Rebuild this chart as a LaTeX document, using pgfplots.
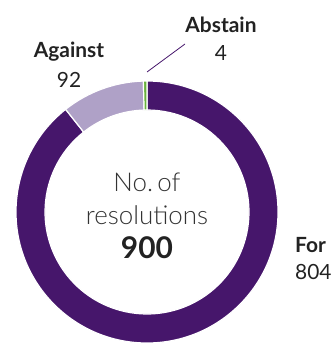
\documentclass[border=0pt]{standalone}
\usepackage{pgfplots}
\usepackage{pgfplotstable}
\pgfplotsset{compat=1.18}
\usepackage{fontspec}
\setmainfont{Lato}
\IfFontExistsTF{Lato Light}{\newfontfamily\lightfont{Lato Light}}{\newfontfamily\lightfont{Lato}}
\definecolor{cFor}{HTML}{46166B}
\definecolor{cAgainst}{HTML}{AFA1C7}
\definecolor{cAbstain}{HTML}{6AB23E}
\definecolor{ctext}{HTML}{222222}
\definecolor{clight}{HTML}{333333}
\pgfplotstableread{
label value
For 804
Against 92
Abstain 4
}\votes
\newcommand\sector[3]{%
  \filldraw[fill=#3, draw=white, line width=1.2bp]
    (axis cs:{147+131*cos(#1)},{131+131*sin(#1)})
    arc[start angle=#1, end angle=#2, radius=131bp]
    -- (axis cs:{147+102*cos(#2)},{131+102*sin(#2)})
    arc[start angle=#2, end angle=#1, radius=102bp] -- cycle;}
\begin{document}%
\begin{tikzpicture}
\pgfplotstablegetelem{0}{value}\of\votes \let\vFor\pgfplotsretval
\pgfplotstablegetelem{1}{value}\of\votes \let\vAgainst\pgfplotsretval
\pgfplotstablegetelem{2}{value}\of\votes \let\vAbstain\pgfplotsretval
\pgfmathsetmacro\vTotal{\vFor+\vAgainst+\vAbstain}
\pgfmathsetmacro\aA{90}
\pgfmathsetmacro\aB{\aA-\vFor/\vTotal*360}
\pgfmathsetmacro\aC{\aB-\vAgainst/\vTotal*360}
\pgfmathsetmacro\aD{\aC-\vAbstain/\vTotal*360}
\pgfmathtruncatemacro\vTotalInt{\vTotal}
\begin{axis}[x=1bp, y=1bp, xmin=0, xmax=332, ymin=0, ymax=343,
  hide axis, clip=false, scale only axis]
\sector{\aA}{\aB}{cFor}
\sector{\aB}{\aC}{cAgainst}
\sector{\aC}{\aD}{cAbstain}
\draw[cFor, line width=0.8bp] (axis cs:147,271) -- (axis cs:185,299);
\node[text=ctext, font=\fontsize{21}{24}\selectfont\bfseries] at (axis cs:69,291) {Against};
\node[text=ctext, font=\fontsize{21}{24}\selectfont] at (axis cs:69,263) {\vAgainst};
\node[text=ctext, font=\fontsize{21}{24}\selectfont\bfseries] at (axis cs:221,318) {Abstain};
\node[text=ctext, font=\fontsize{21}{24}\selectfont] at (axis cs:221,290) {\vAbstain};
\node[text=ctext, anchor=west, inner xsep=0pt, font=\fontsize{21}{24}\selectfont\bfseries] at (axis cs:295,98) {For};
\node[text=ctext, anchor=west, inner xsep=0pt, font=\fontsize{21}{24}\selectfont] at (axis cs:295,71) {\vFor};
\node[text=clight, font=\fontsize{26}{30}\selectfont\lightfont] at (axis cs:147,161) {No.\,of};
\node[text=clight, font=\fontsize{26}{30}\selectfont\lightfont] at (axis cs:147,128) {resolutions};
\node[text=ctext, font=\fontsize{30}{34}\selectfont\bfseries] at (axis cs:147,95) {\vTotalInt};
\end{axis}
\pgfresetboundingbox
\useasboundingbox (current axis.south west) rectangle (current axis.north east);
\end{tikzpicture}%
\end{document}
